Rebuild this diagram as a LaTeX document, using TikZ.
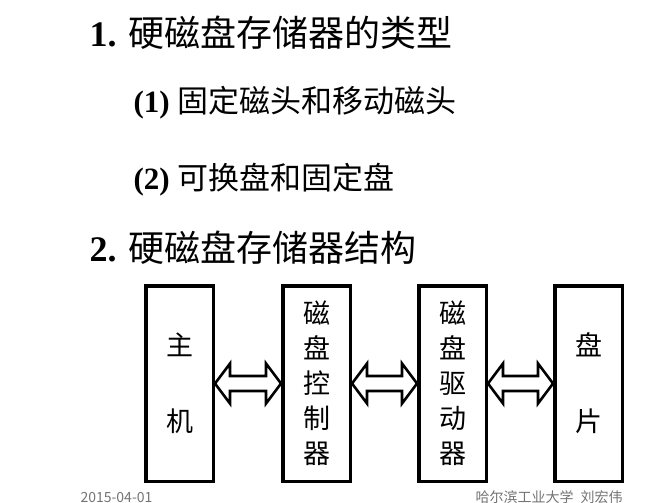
\documentclass[tikz,border=0pt]{standalone}
\usepackage{fontspec}
\setmainfont{Liberation Serif}
\newfontfamily\cjk{Noto Sans CJK SC}
\usetikzlibrary{positioning,calc}

\tikzset{
  unitbox/.style={draw,line width=3.5pt,minimum width=67.5pt,minimum height=195.5pt,
    inner sep=0pt,align=center,font=\cjk\fontsize{27}{35}\selectfont},
  busarrow/.style={draw,line width=2.6pt,fill=white,line join=miter},
  heading/.style={anchor=base west,font=\fontsize{36}{40}\selectfont},
  subitem/.style={anchor=base west,font=\fontsize{31}{36}\selectfont},
  footer/.style={anchor=base west,text=black!55,font=\cjk\fontsize{14}{15}\selectfont}
}
% hollow double arrow between two boxes
\newcommand{\busbetween}[2]{%
  \draw[busarrow] let \p1=(#1.east), \p2=(#2.west) in
    (\x1,\y1) -- (\x1+15pt,\y1+20pt) -- (\x1+15pt,\y1+7.5pt)
    -- (\x2-15pt,\y1+7.5pt) -- (\x2-15pt,\y1+20pt) -- (\x2,\y1)
    -- (\x2-15pt,\y1-20pt) -- (\x2-15pt,\y1-7.5pt)
    -- (\x1+15pt,\y1-7.5pt) -- (\x1+15pt,\y1-20pt) -- cycle;}

\begin{document}
\begin{tikzpicture}[x=1pt,y=-1pt]
  \useasboundingbox (0,0) rectangle (648,503);
  % headings
  \node[heading] (h1) at (86,47) {\textbf{1.} {\cjk 硬磁盘存储器的类型}};
  \node[subitem] (s1) at (130,112) {\textbf{(1)} {\cjk 固定磁头和移动磁头}};
  \node[subitem] (s2) at (130,189) {\textbf{(2)} {\cjk 可换盘和固定盘}};
  \node[heading] (h2) at (86,261) {\textbf{2.} {\cjk 硬磁盘存储器结构}};
  % structure blocks
  \node[unitbox] (host) at (179.5,383.5) {主\\[41pt]机};
  \node[unitbox,right=66pt of host] (ctrl) {磁\\盘\\控\\制\\器};
  \node[unitbox,right=65pt of ctrl] (drive) {磁\\盘\\驱\\动\\器};
  \node[unitbox,right=65pt of drive] (platter) {盘\\[41pt]片};
  \busbetween{host}{ctrl}
  \busbetween{ctrl}{drive}
  \busbetween{drive}{platter}
  % footer
  \node[footer] (date) at (77,502) {2015-04-01};
  \node[footer] (author) at (472,502) {哈尔滨工业大学\hspace{0.5em}刘宏伟};
\end{tikzpicture}
\end{document}
